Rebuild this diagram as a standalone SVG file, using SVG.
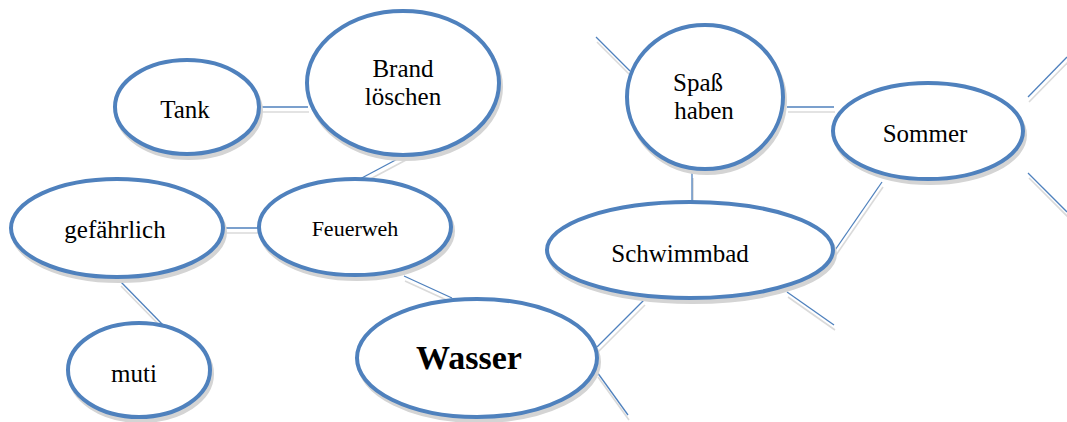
<svg xmlns="http://www.w3.org/2000/svg" width="1067" height="422" viewBox="0 0 1067 422">
<style>
.sh{fill:#d4d4d4;stroke:#d4d4d4;stroke-width:4}
.nd{fill:#ffffff;stroke:#4f81bd;stroke-width:4}
.t{font-family:"Liberation Serif","DejaVu Serif",serif;font-size:25px;fill:#000;text-anchor:middle}
.b{font-weight:bold;font-size:34px}
.c{stroke:#4f81bd;stroke-width:1.3;fill:none}
.cs{stroke:#dadada;stroke-width:1.6;fill:none}
</style>
<rect width="1067" height="422" fill="#ffffff"/>
<g id="connectors">
<g transform="translate(1,5)" class="cs">
<line x1="260" y1="107" x2="308" y2="107"/>
<line x1="405" y1="155" x2="358" y2="180"/>
<line x1="223" y1="228" x2="259" y2="228"/>
<line x1="120" y1="281" x2="163" y2="325"/>
<line x1="404" y1="276" x2="452" y2="298"/>
<line x1="597" y1="347" x2="644" y2="300"/>
<line x1="597" y1="372" x2="628" y2="415"/>
<line x1="692" y1="173" x2="692" y2="203"/>
<line x1="787" y1="107" x2="834" y2="107"/>
<line x1="882" y1="182" x2="833" y2="253"/>
<line x1="787" y1="292" x2="834" y2="325"/>
<line x1="596" y1="37" x2="630" y2="71"/>
<line x1="1028" y1="97" x2="1067" y2="57"/>
<line x1="1028" y1="173" x2="1067" y2="212"/>
</g>
<g class="c">
<line x1="260" y1="107" x2="308" y2="107"/>
<line x1="405" y1="155" x2="358" y2="180"/>
<line x1="223" y1="228" x2="259" y2="228"/>
<line x1="120" y1="281" x2="163" y2="325"/>
<line x1="404" y1="276" x2="452" y2="298"/>
<line x1="597" y1="347" x2="644" y2="300"/>
<line x1="597" y1="372" x2="628" y2="415"/>
<line x1="692" y1="173" x2="692" y2="203"/>
<line x1="787" y1="107" x2="834" y2="107"/>
<line x1="882" y1="182" x2="833" y2="253"/>
<line x1="787" y1="292" x2="834" y2="325"/>
<line x1="596" y1="37" x2="630" y2="71"/>
<line x1="1028" y1="97" x2="1067" y2="57"/>
<line x1="1028" y1="173" x2="1067" y2="212"/>
</g>
</g>
<g id="tank">
<ellipse class="sh" cx="189" cy="111" rx="72" ry="47"/>
<ellipse class="nd" cx="187" cy="107" rx="72" ry="47"/>
<text class="t" x="185" y="118">Tank</text>
</g>
<g id="brand">
<ellipse class="sh" cx="405" cy="87" rx="96" ry="72"/>
<ellipse class="nd" cx="403" cy="83" rx="96" ry="72"/>
<text class="t" x="403" y="77">Brand</text>
<text class="t" x="403" y="105">löschen</text>
</g>
<g id="feuerweh">
<ellipse class="sh" cx="357" cy="231" rx="96" ry="48"/>
<ellipse class="nd" cx="355" cy="227" rx="96" ry="48"/>
<text class="t" x="355" y="236" style="font-size:22px">Feuerweh</text>
</g>
<g id="gefaehrlich">
<ellipse class="sh" cx="119" cy="232" rx="106" ry="49"/>
<ellipse class="nd" cx="117" cy="228" rx="106" ry="49"/>
<text class="t" x="115" y="238">gefährlich</text>
</g>
<g id="muti">
<ellipse class="sh" cx="141" cy="374" rx="71" ry="47"/>
<ellipse class="nd" cx="139" cy="370" rx="71" ry="47"/>
<text class="t" x="134" y="382">muti</text>
</g>
<g id="wasser">
<ellipse class="sh" cx="479" cy="362" rx="120" ry="59"/>
<ellipse class="nd" cx="477" cy="358" rx="120" ry="59"/>
<text class="t b" x="469" y="369">Wasser</text>
</g>
<g id="spass">
<ellipse class="sh" cx="707" cy="101" rx="78" ry="72"/>
<ellipse class="nd" cx="705" cy="97" rx="78" ry="72"/>
<text class="t" x="698" y="91">Spaß</text>
<text class="t" x="704" y="119">haben</text>
</g>
<g id="sommer">
<ellipse class="sh" cx="930" cy="135" rx="95" ry="48"/>
<ellipse class="nd" cx="928" cy="131" rx="95" ry="48"/>
<text class="t" x="925" y="142">Sommer</text>
</g>
<g id="schwimmbad">
<ellipse class="sh" cx="692" cy="254" rx="143" ry="48"/>
<ellipse class="nd" cx="690" cy="250" rx="143" ry="48"/>
<text class="t" x="680" y="262">Schwimmbad</text>
</g>
</svg>
